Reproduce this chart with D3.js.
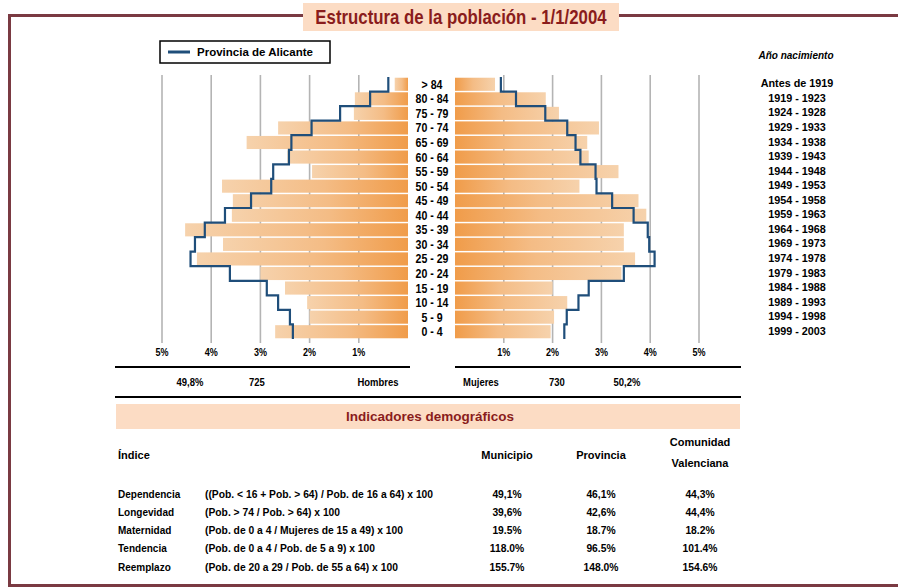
<!DOCTYPE html>
<html>
<head>
<meta charset="utf-8">
<script src="https://cdn.jsdelivr.net/npm/d3@7"></script>
<style>
  body { margin: 0; background: #fff; }
  text { font-family: "Liberation Sans", Arial, sans-serif; font-weight: bold; }
</style>
</head>
<body>
<svg id="chart"></svg>
<script>
// 1. Data (top row = oldest group)
const ageGroups = ["> 84", "80 - 84", "75 - 79", "70 - 74", "65 - 69", "60 - 64", "55 - 59", "50 - 54", "45 - 49",
  "40 - 44", "35 - 39", "30 - 34", "25 - 29", "20 - 24", "15 - 19", "10 - 14", "5 - 9", "0 - 4"];
const birthYears = ["Antes de 1919", "1919 - 1923", "1924 - 1928", "1929 - 1933", "1934 - 1938", "1939 - 1943",
  "1944 - 1948", "1949 - 1953", "1954 - 1958", "1959 - 1963", "1964 - 1968", "1969 - 1973", "1974 - 1978",
  "1979 - 1983", "1984 - 1988", "1989 - 1993", "1994 - 1998", "1999 - 2003"];

// % of total population, municipio
const menPct = [0.27, 1.08, 1.1, 2.64, 3.28, 2.45, 1.95, 3.78, 3.56, 3.58, 4.53, 3.76, 4.29, 3.0, 2.5, 2.05, 2.0, 2.7];
const womenPct = [0.82, 1.86, 2.13, 2.95, 2.71, 2.74, 3.35, 2.55, 3.76, 3.92, 3.46, 3.46, 3.69, 3.41, 2.0, 2.3, 2.03, 1.96];
// % of total population, Provincia de Alicante
const provMenPct = [0.4, 0.77, 1.38, 1.96, 2.37, 2.42, 2.74, 2.78, 3.19, 3.72, 4.13, 4.33, 4.42, 3.62, 2.87, 2.64, 2.4, 2.34];
const provWomenPct = [0.94, 1.25, 1.85, 2.3, 2.47, 2.57, 2.88, 2.9, 3.22, 3.66, 3.95, 3.98, 4.09, 3.46, 2.74, 2.53, 2.29, 2.24];

const pctTicks = [1, 2, 3, 4, 5];
const menTotals = ["49,8%", "725", "Hombres"];
const womenTotals = ["Mujeres", "730", "50,2%"];

const indicatorNames = ["Dependencia", "Longevidad", "Maternidad", "Tendencia", "Reemplazo"];
const indicatorFormulas = [
  "((Pob. < 16 + Pob. > 64) / Pob. de 16 a 64) x 100",
  "(Pob. > 74 / Pob. > 64) x 100",
  "(Pob. de 0 a 4 / Mujeres de 15 a 49) x 100",
  "(Pob. de 0 a 4 / Pob. de 5 a 9) x 100",
  "(Pob. de 20 a 29 / Pob. de 55 a 64) x 100"
];
const municipioValues = ["49,1%", "39,6%", "19.5%", "118.0%", "155.7%"];
const provinciaValues = ["46,1%", "42,6%", "18.7%", "96.5%", "148.0%"];
const comunidadValues = ["44,3%", "44,4%", "18.2%", "101.4%", "154.6%"];

// 2. SVG setup
const W = 898, H = 588;
const svg = d3.select("#chart").attr("width", W).attr("height", H);
const borderColor = "#7a3a42";
const darkRed = "#8a1c1c";
const blue = "#1f4e7a";
const peach = "#fcdcc4";

// squeeze text horizontally (the original face is a condensed bold)
function narrow(sel, k) {
  sel.each(function () {
    const w = this.getComputedTextLength();
    d3.select(this).attr("textLength", w * k).attr("lengthAdjust", "spacingAndGlyphs");
  });
}

// 2.1 gradients for the bars
const defs = svg.append("defs");
function barGradient(id, reverse) {
  const lg = defs.append("linearGradient").attr("id", id)
    .attr("x1", reverse ? "100%" : "0%").attr("x2", reverse ? "0%" : "100%");
  lg.append("stop").attr("offset", "0%").attr("stop-color", "#f6d2ac");
  lg.append("stop").attr("offset", "55%").attr("stop-color", "#f4bc85");
  lg.append("stop").attr("offset", "100%").attr("stop-color", "#f09c4a");
}
barGradient("grad-men", false);
barGradient("grad-women", true);

// 3. Frame and title
svg.append("path")
  .attr("d", `M${W},15.5 H9.5 V585.5 H${W}`)
  .attr("fill", "none")
  .attr("stroke", borderColor)
  .attr("stroke-width", 3);

svg.append("rect")
  .attr("x", 303).attr("y", 3).attr("width", 316).attr("height", 28)
  .attr("fill", peach);
svg.append("text")
  .attr("x", 461).attr("y", 24)
  .attr("text-anchor", "middle")
  .attr("font-size", "21px")
  .attr("fill", darkRed)
  .text("Estructura de la población - 1/1/2004")
  .call(narrow, 0.8);

// 4. Scales
const y = d3.scaleBand().domain(ageGroups).range([77, 339]).paddingInner(0.1).paddingOuter(0.05);
const xMen = d3.scaleLinear().domain([0, 5]).range([408, 162]);
const xWomen = d3.scaleLinear().domain([0, 5]).range([455, 699]);
const gap = (y.step() - y.bandwidth()) / 2;

// 4.1 grid lines (behind bars)
const grid = svg.append("g");
grid.selectAll("line.gm").data(pctTicks).enter().append("line")
  .attr("x1", d => xMen(d)).attr("x2", d => xMen(d))
  .attr("y1", 75).attr("y2", 343)
  .attr("stroke", "#b4b4b4").attr("stroke-width", 1.6);
grid.selectAll("line.gw").data(pctTicks).enter().append("line")
  .attr("x1", d => xWomen(d)).attr("x2", d => xWomen(d))
  .attr("y1", 75).attr("y2", 343)
  .attr("stroke", "#b4b4b4").attr("stroke-width", 1.6);

// 5. Bars
const rows = ageGroups.map((a, i) => ({
  age: a, year: birthYears[i], men: menPct[i], women: womenPct[i],
  pm: provMenPct[i], pw: provWomenPct[i]
}));

svg.append("g").selectAll("rect").data(rows).enter().append("rect")
  .attr("x", d => xMen(d.men))
  .attr("y", d => y(d.age))
  .attr("width", d => xMen(0) - xMen(d.men))
  .attr("height", y.bandwidth())
  .attr("fill", "url(#grad-men)");

svg.append("g").selectAll("rect").data(rows).enter().append("rect")
  .attr("x", xWomen(0))
  .attr("y", d => y(d.age))
  .attr("width", d => xWomen(d.women) - xWomen(0))
  .attr("height", y.bandwidth())
  .attr("fill", "url(#grad-women)");

// 6. Province step lines
function stepPoints(key, xs) {
  const pts = [];
  rows.forEach(d => {
    pts.push([xs(d[key]), y(d.age) - gap]);
    pts.push([xs(d[key]), y(d.age) + y.bandwidth() + gap]);
  });
  return pts;
}
const line = d3.line();
svg.append("path").attr("d", line(stepPoints("pm", xMen)))
  .attr("fill", "none").attr("stroke", blue).attr("stroke-width", 2.2);
svg.append("path").attr("d", line(stepPoints("pw", xWomen)))
  .attr("fill", "none").attr("stroke", blue).attr("stroke-width", 2.2);

// 7. Age and birth year labels
svg.append("g").selectAll("text").data(rows).enter().append("text")
  .attr("x", 432)
  .attr("y", d => y(d.age) + y.bandwidth() / 2 + 4.5)
  .attr("text-anchor", "middle")
  .attr("font-size", "12px")
  .text(d => d.age)
  .call(narrow, 0.88);

svg.append("g").selectAll("text").data(rows).enter().append("text")
  .attr("x", 797)
  .attr("y", d => y(d.age) + y.bandwidth() / 2 + 3)
  .attr("text-anchor", "middle")
  .attr("font-size", "10.8px")
  .text(d => d.year);

svg.append("text")
  .attr("x", 796).attr("y", 59)
  .attr("text-anchor", "middle")
  .attr("font-size", "10px")
  .attr("font-style", "italic")
  .text("Año nacimiento");

// 8. Legend
svg.append("rect")
  .attr("x", 160).attr("y", 41).attr("width", 170).attr("height", 22)
  .attr("fill", "#fff").attr("stroke", "#000").attr("stroke-width", 1.5);
svg.append("line")
  .attr("x1", 168).attr("x2", 190).attr("y1", 52).attr("y2", 52)
  .attr("stroke", blue).attr("stroke-width", 3);
svg.append("text")
  .attr("x", 197).attr("y", 56)
  .attr("font-size", "11.5px")
  .text("Provincia de Alicante");

// 9. Percentage axes
svg.append("g").selectAll("text").data(pctTicks).enter().append("text")
  .attr("x", d => xMen(d)).attr("y", 356)
  .attr("text-anchor", "middle").attr("font-size", "11px")
  .text(d => d + "%")
  .call(narrow, 0.82);
svg.append("g").selectAll("text").data(pctTicks).enter().append("text")
  .attr("x", d => xWomen(d)).attr("y", 356)
  .attr("text-anchor", "middle").attr("font-size", "11px")
  .text(d => d + "%")
  .call(narrow, 0.82);

// 9.1 totals row
svg.append("line").attr("x1", 115).attr("x2", 410).attr("y1", 367).attr("y2", 367)
  .attr("stroke", "#000").attr("stroke-width", 1.8);
svg.append("line").attr("x1", 455).attr("x2", 741).attr("y1", 367).attr("y2", 367)
  .attr("stroke", "#000").attr("stroke-width", 1.8);
svg.append("line").attr("x1", 115).attr("x2", 741).attr("y1", 397).attr("y2", 397)
  .attr("stroke", "#000").attr("stroke-width", 1.8);

const totalsX = [190, 257, 378, 481, 557, 627];
svg.append("g").selectAll("text").data(menTotals.concat(womenTotals)).enter().append("text")
  .attr("x", (d, i) => totalsX[i]).attr("y", 386)
  .attr("text-anchor", "middle").attr("font-size", "11px")
  .text(d => d)
  .call(narrow, 0.86);

// 10. Indicators table
svg.append("rect")
  .attr("x", 116).attr("y", 404).attr("width", 624).attr("height", 25)
  .attr("fill", peach);
svg.append("text")
  .attr("x", 430).attr("y", 421)
  .attr("text-anchor", "middle").attr("font-size", "13.5px")
  .attr("fill", darkRed)
  .text("Indicadores demográficos");

const colX = [507, 601, 700];
svg.append("text").attr("x", 118).attr("y", 459).attr("font-size", "11px").text("Índice");
svg.append("text").attr("x", colX[0]).attr("y", 459).attr("text-anchor", "middle").attr("font-size", "11px").text("Municipio");
svg.append("text").attr("x", colX[1]).attr("y", 459).attr("text-anchor", "middle").attr("font-size", "11px").text("Provincia");
svg.append("text").attr("x", colX[2]).attr("y", 446).attr("text-anchor", "middle").attr("font-size", "11px").text("Comunidad");
svg.append("text").attr("x", colX[2]).attr("y", 467).attr("text-anchor", "middle").attr("font-size", "11px").text("Valenciana");

const rowY = d3.scalePoint().domain(indicatorNames).range([497.5, 570.5]);
const table = svg.append("g");
indicatorNames.forEach((name, i) => {
  const yy = rowY(name);
  table.append("text").attr("x", 118).attr("y", yy).attr("font-size", "10px").text(name);
  table.append("text").attr("x", 205).attr("y", yy).attr("font-size", "10.3px").text(indicatorFormulas[i]);
  [municipioValues[i], provinciaValues[i], comunidadValues[i]].forEach((v, j) => {
    table.append("text").attr("x", colX[j]).attr("y", yy)
      .attr("text-anchor", "middle").attr("font-size", "10.3px").text(v);
  });
});
</script>
</body>
</html>
